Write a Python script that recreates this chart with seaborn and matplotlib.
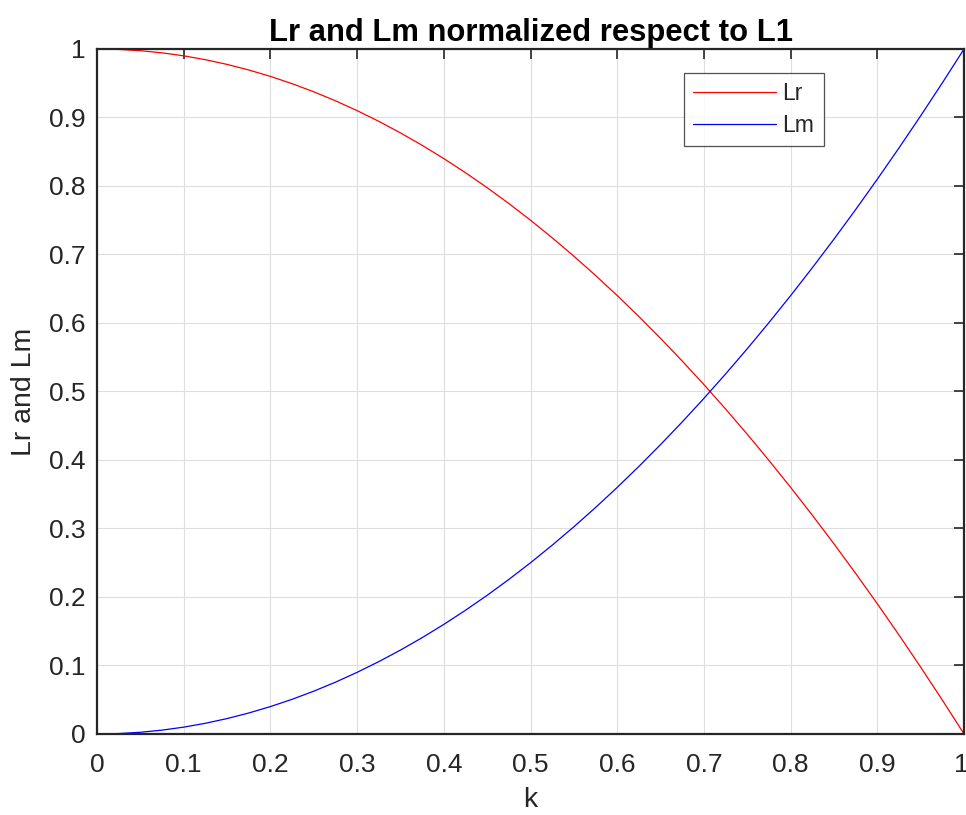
import matplotlib
matplotlib.use("Agg")
import matplotlib.pyplot as plt
import matplotlib.transforms as mtransforms
import seaborn as sns
import pandas as pd

# Coupling coefficient and the normalized inductances
k_values = [0.000, 0.025, 0.050, 0.075, 0.100, 0.125, 0.150, 0.175, 0.200, 0.225,
            0.250, 0.275, 0.300, 0.325, 0.350, 0.375, 0.400, 0.425, 0.450, 0.475,
            0.500, 0.525, 0.550, 0.575, 0.600, 0.625, 0.650, 0.675, 0.700, 0.725,
            0.750, 0.775, 0.800, 0.825, 0.850, 0.875, 0.900, 0.925, 0.950, 0.975,
            1.000]
lr_values = [1.000000, 0.999375, 0.997500, 0.994375, 0.990000, 0.984375, 0.977500,
             0.969375, 0.960000, 0.949375, 0.937500, 0.924375, 0.910000, 0.894375,
             0.877500, 0.859375, 0.840000, 0.819375, 0.797500, 0.774375, 0.750000,
             0.724375, 0.697500, 0.669375, 0.640000, 0.609375, 0.577500, 0.544375,
             0.510000, 0.474375, 0.437500, 0.399375, 0.360000, 0.319375, 0.277500,
             0.234375, 0.190000, 0.144375, 0.097500, 0.049375, 0.000000]
lm_values = [0.000000, 0.000625, 0.002500, 0.005625, 0.010000, 0.015625, 0.022500,
             0.030625, 0.040000, 0.050625, 0.062500, 0.075625, 0.090000, 0.105625,
             0.122500, 0.140625, 0.160000, 0.180625, 0.202500, 0.225625, 0.250000,
             0.275625, 0.302500, 0.330625, 0.360000, 0.390625, 0.422500, 0.455625,
             0.490000, 0.525625, 0.562500, 0.600625, 0.640000, 0.680625, 0.722500,
             0.765625, 0.810000, 0.855625, 0.902500, 0.950625, 1.000000]
series_names = ["Lr", "Lm"]
tick_values = [0, 0.1, 0.2, 0.3, 0.4, 0.5, 0.6, 0.7, 0.8, 0.9, 1]
tick_labels = ["0", "0.1", "0.2", "0.3", "0.4", "0.5", "0.6", "0.7", "0.8", "0.9", "1"]

df = pd.DataFrame({
    "k": k_values * 2,
    "value": lr_values + lm_values,
    "series": [series_names[0]] * len(k_values) + [series_names[1]] * len(k_values),
})

sns.set_theme(style="white")
plt.rcParams["font.family"] = ["Liberation Sans", "DejaVu Sans"]

fig = plt.figure(figsize=(9.66, 8.15), dpi=100)
ax = fig.add_axes([0.1004, 0.0994, 0.8976, 0.8405])

sns.lineplot(data=df, x="k", y="value", hue="series",
             palette={"Lr": "#ff0000", "Lm": "#0000ff"},
             linewidth=0.9, ax=ax, legend=True, estimator=None, sort=True)
for line in ax.get_lines():
    line.set_solid_joinstyle("round")

ax.set_xlim(0, 1)
ax.set_ylim(0, 1)
ax.set_xticks(tick_values)
ax.set_xticklabels(tick_labels)
ax.set_yticks(tick_values)
ax.set_yticklabels(tick_labels)

axis_color = "#262626"
ax.grid(True, color="#dedede", linewidth=0.8)
ax.set_axisbelow(True)
for side in ["left", "right", "top", "bottom"]:
    ax.spines[side].set_visible(True)
    ax.spines[side].set_color(axis_color)
    ax.spines[side].set_linewidth(1.6)

ax.tick_params(axis="both", which="major", direction="in", length=7, width=1.2,
               color=axis_color, labelcolor=axis_color, labelsize=19,
               top=True, right=True)
ax.tick_params(axis="x", pad=14)
ax.tick_params(axis="y", pad=8)

# keep the last x tick label inside the figure edge
last_label = ax.get_xticklabels()[-1]
last_label.set_transform(last_label.get_transform() +
                         mtransforms.ScaledTranslation(-3 / 100, 0, fig.dpi_scale_trans))

ax.set_xlabel("k", fontsize=20.5, color=axis_color, labelpad=7)
ax.set_ylabel("Lr and Lm", fontsize=20.5, color=axis_color, labelpad=9)
ax.set_title("Lr and Lm normalized respect to L1", fontsize=22.3,
             fontweight="bold", color="black", pad=6)

leg = ax.legend(loc="upper left", bbox_to_anchor=(0.677, 0.965), fontsize=16.5,
                frameon=True, fancybox=False, edgecolor="#262626",
                handlelength=3.6, handletextpad=0.3, borderpad=0.4,
                labelspacing=0.4, borderaxespad=0)
leg.get_frame().set_linewidth(0.9)
for line in leg.get_lines():
    line.set_linewidth(0.9)

fig.savefig("out.png", dpi=100)
